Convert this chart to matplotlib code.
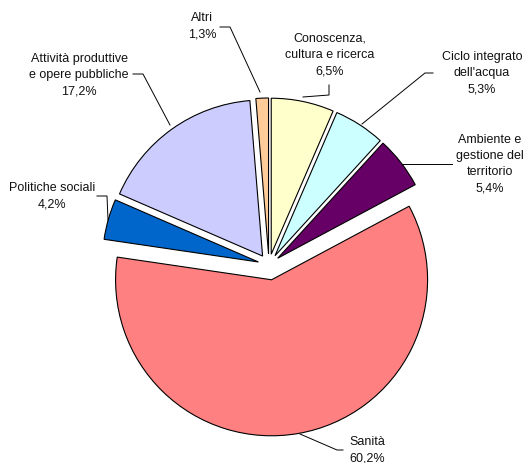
import matplotlib.pyplot as plt

# Spending shares by sector (%)
labels = ["Conoscenza,\ncultura e ricerca", "Ciclo integrato\ndell'acqua",
          "Ambiente e\ngestione del\nterritorio", "Sanità", "Politiche sociali",
          "Attività produttive\ne opere pubbliche", "Altri"]
values = [6.5, 5.3, 5.4, 60.2, 4.2, 17.2, 1.3]
colors = ["#FFFFCC", "#CCFFFF", "#660066", "#FF8080", "#0066CC", "#CCCCFF", "#FFCC99"]

# label placement (pixel coords, y measured from top) and leader lines
text_pos = [(330, 55), (482, 73), (490, 164), (367, 450), (52, 196), (79, 75), (202, 26)]
leaders = [
    [(329, 86), (329, 96), (303, 98)],
    [(433, 74), (425, 74), (362, 125)],
    [(452, 165), (403, 165)],
    [(343, 451), (337, 451), (300, 435)],
    [(97, 197), (107, 197), (108, 221)],
    [(133, 75), (143, 75), (170, 126)],
    [(220, 28), (230, 28), (260, 93)],
]

W, H = 527, 464
plt.rcParams["font.family"] = ["Liberation Sans", "DejaVu Sans"]
fig = plt.figure(figsize=(W / 100, H / 100), dpi=100)
ax = fig.add_axes([0, 0, 1, 1])

explode = [11, 11, 11, 15, 11, 11, 11]
ax.pie(values, colors=colors, explode=explode, startangle=90, counterclock=False,
       center=(269, H - 266), radius=156,
       wedgeprops=dict(edgecolor="black", linewidth=0.8))

ax.set_xlim(0, W)
ax.set_ylim(0, H)
ax.set_aspect("equal")
ax.axis("off")

for lab, v, (tx, ty), pts in zip(labels, values, text_pos, leaders):
    txt = lab + "\n" + f"{v:.1f}%".replace(".", ",")
    ax.text(tx, H - ty, txt, ha="center", va="center", fontsize=9,
            linespacing=1.45, color="#111111")
    ax.plot([p[0] for p in pts], [H - p[1] for p in pts], color="black", lw=0.7)

fig.savefig("out.png", dpi=100)
